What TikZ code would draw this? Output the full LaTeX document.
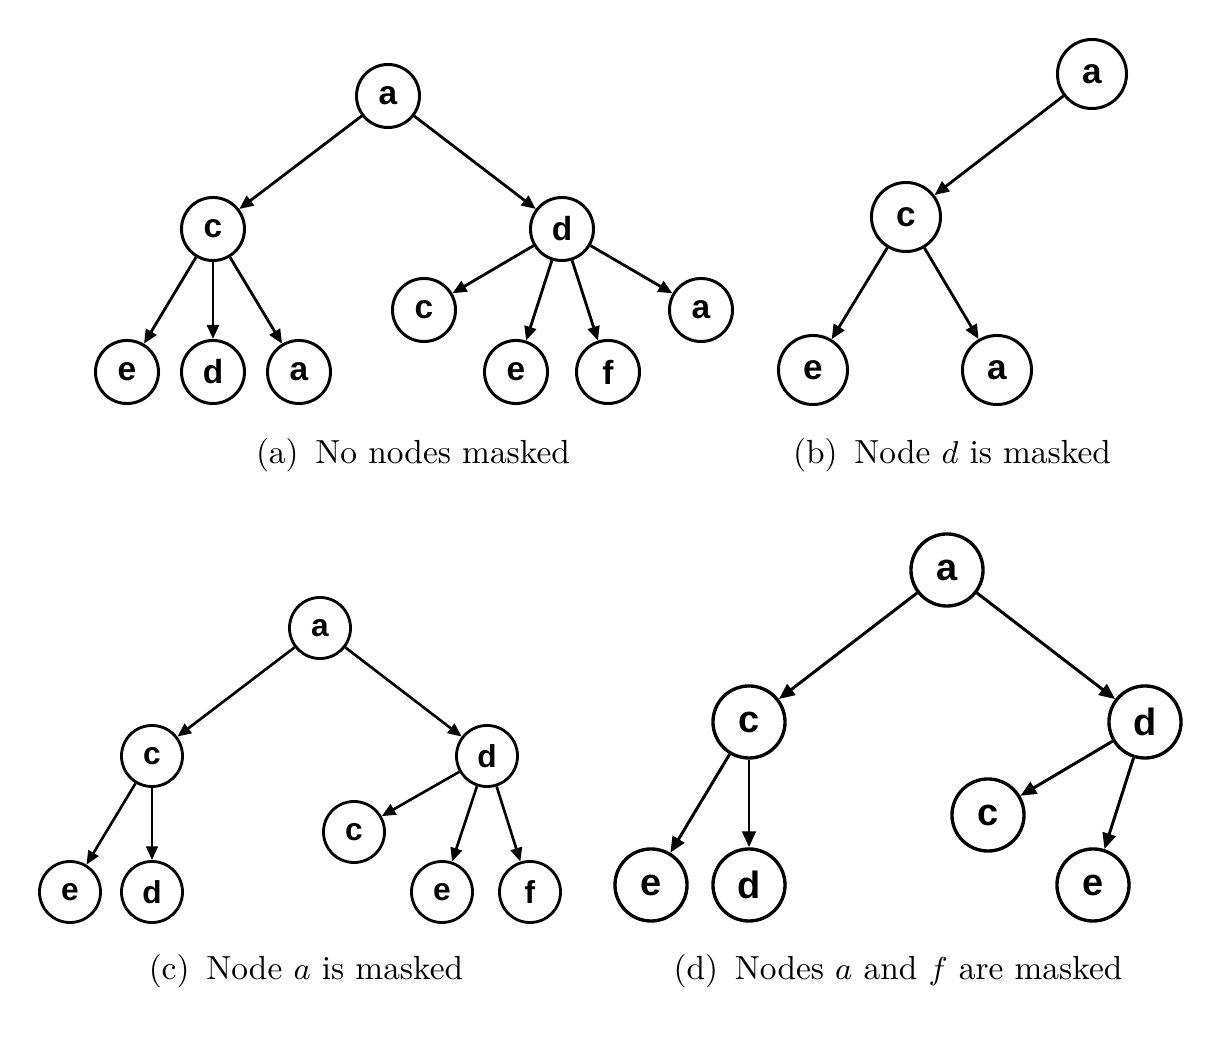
\documentclass[tikz,border=0pt]{standalone}
\usepackage{amsmath}
\usepackage{fontspec}
\usepackage{tikz}
\usetikzlibrary{arrows.meta}
\newfontfamily\nodefont{Liberation Sans}

\tikzset{
  vtx/.style={circle, draw, inner sep=0pt},
  edge/.style={->},
  capt/.style={font=\fontsize{9.5}{12}\selectfont},
  treea/.style={vtx/.append style={minimum size=0.63cm, line width=0.85pt, font=\nodefont\bfseries\fontsize{9.5}{11}\selectfont},
    edge/.append style={line width=0.8pt}, >={Triangle[length=4pt,width=3.4pt]}},
  treeb/.style={vtx/.append style={minimum size=0.69cm, line width=0.85pt, font=\nodefont\bfseries\fontsize{10}{11}\selectfont},
    edge/.append style={line width=0.8pt}, >={Triangle[length=4.1pt,width=3.5pt]}},
  treec/.style={vtx/.append style={minimum size=0.61cm, line width=0.8pt, font=\nodefont\bfseries\fontsize{9}{10}\selectfont},
    edge/.append style={line width=0.75pt}, >={Triangle[length=3.9pt,width=3.3pt]}},
  treed/.style={vtx/.append style={minimum size=0.72cm, line width=0.95pt, font=\nodefont\bfseries\fontsize{10.8}{12}\selectfont},
    edge/.append style={line width=0.85pt}, >={Triangle[length=4.5pt,width=3.8pt]}},
}

\begin{document}
\begin{tikzpicture}[x=0.01cm, y=-0.01cm]
\useasboundingbox (0,0) rectangle (1208,1040);

% (a) no nodes masked
\begin{scope}[treea]
\node[vtx] (A-a) at (388,96) {a};
\node[vtx] (A-c) at (213,229) {c};
\node[vtx] (A-d) at (562,229) {d};
\node[vtx] (A-ce) at (127,372) {e};
\node[vtx] (A-cd) at (213,372) {d};
\node[vtx] (A-ca) at (299,372) {a};
\node[vtx] (A-dc) at (424,310) {c};
\node[vtx] (A-de) at (516,372) {e};
\node[vtx] (A-df) at (608,372) {f};
\node[vtx] (A-da) at (701,310) {a};
\foreach \s/\t in {a/c, a/d, c/ce, c/cd, c/ca, d/dc, d/de, d/df, d/da}
  \draw[edge] (A-\s) -- (A-\t);
\end{scope}
\node[capt] (capa) at (413,455) {(a)\enspace No nodes masked};

% (b) node d masked
\begin{scope}[treeb]
\node[vtx] (B-a) at (1092,74) {a};
\node[vtx] (B-c) at (906,217) {c};
\node[vtx] (B-ce) at (813,370) {e};
\node[vtx] (B-ca) at (997,370) {a};
\foreach \s/\t in {a/c, c/ce, c/ca}
  \draw[edge] (B-\s) -- (B-\t);
\end{scope}
\node[capt] (capb) at (952,455) {(b)\enspace Node $d$ is masked};

% (c) node a masked
\begin{scope}[treec]
\node[vtx] (C-a) at (320,628) {a};
\node[vtx] (C-c) at (152,756) {c};
\node[vtx] (C-d) at (487,756) {d};
\node[vtx] (C-ce) at (70,892) {e};
\node[vtx] (C-cd) at (152,892) {d};
\node[vtx] (C-dc) at (354,832) {c};
\node[vtx] (C-de) at (442,892) {e};
\node[vtx] (C-df) at (530,892) {f};
\foreach \s/\t in {a/c, a/d, c/ce, c/cd, d/dc, d/de, d/df}
  \draw[edge] (C-\s) -- (C-\t);
\end{scope}
\node[capt] (capc) at (306,971) {(c)\enspace Node $a$ is masked};

% (d) nodes a and f masked
\begin{scope}[treed]
\node[vtx] (D-a) at (947,570) {a};
\node[vtx] (D-c) at (749,722) {c};
\node[vtx] (D-d) at (1145,722) {d};
\node[vtx] (D-ce) at (651,885) {e};
\node[vtx] (D-cd) at (749,885) {d};
\node[vtx] (D-dc) at (988,815) {c};
\node[vtx] (D-de) at (1093,885) {e};
\foreach \s/\t in {a/c, a/d, c/ce, c/cd, d/dc, d/de}
  \draw[edge] (D-\s) -- (D-\t);
\end{scope}
\node[capt] (capd) at (898,971) {(d)\enspace Nodes $a$ and $f$ are masked};
\end{tikzpicture}
\end{document}
